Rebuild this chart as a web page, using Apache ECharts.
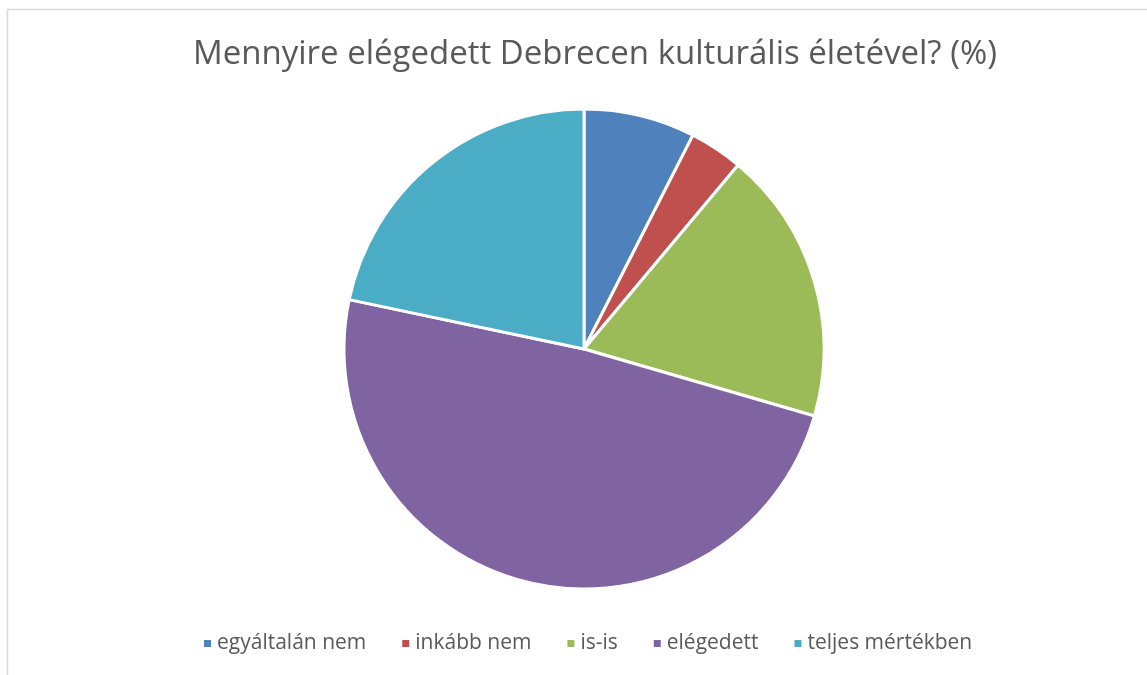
<!DOCTYPE html>
<html>
<head>
<meta charset="utf-8">
<script src="https://cdn.jsdelivr.net/npm/echarts@6/dist/echarts.min.js"></script>
<style>
  html, body { margin: 0; padding: 0; background: #fff; }
  #chart { width: 1147px; height: 675px; }
</style>
</head>
<body>
<div id="chart"></div>
<script>
// kategóriák és értékek (%)
var categories = ['egyáltalán nem', 'inkább nem', 'is-is', 'elégedett', 'teljes mértékben'];
var values = [7.5, 3.6, 18.4, 48.8, 21.7];
var colors = ['#4F81BD', '#C0504D', '#9BBB59', '#8064A2', '#4BACC6'];

var chart = echarts.init(document.getElementById('chart'));

var option = {
  backgroundColor: '#fff',
  animation: false,
  color: colors,
  title: {
    text: 'Mennyire elégedett Debrecen kulturális életével? (%)',
    left: 188,
    top: 33,
    textStyle: {
      fontFamily: 'Open Sans',
      fontWeight: 'normal',
      fontSize: 33,
      color: '#595959'
    }
  },
  graphic: [{
    type: 'rect',
    shape: { x: 7.5, y: 9.5, width: 1200, height: 700 },
    style: { fill: 'none', stroke: '#d9d9d9', lineWidth: 1.5 },
    silent: true
  }],
  legend: {
    bottom: 16,
    left: 197,
    itemWidth: 9,
    itemHeight: 9,
    itemGap: 34,
    icon: 'rect',
    textStyle: {
      fontFamily: 'Open Sans',
      fontSize: 21,
      color: '#595959'
    },
    data: categories
  },
  series: [{
    type: 'pie',
    center: [584, 349],
    radius: 240,
    startAngle: 90,
    clockwise: true,
    label: { show: false },
    labelLine: { show: false },
    itemStyle: { borderColor: '#fff', borderWidth: 3 },
    emphasis: { disabled: true },
    data: categories.map(function (name, i) {
      return { name: name, value: values[i] };
    })
  }]
};

chart.setOption(option);
</script>
</body>
</html>
